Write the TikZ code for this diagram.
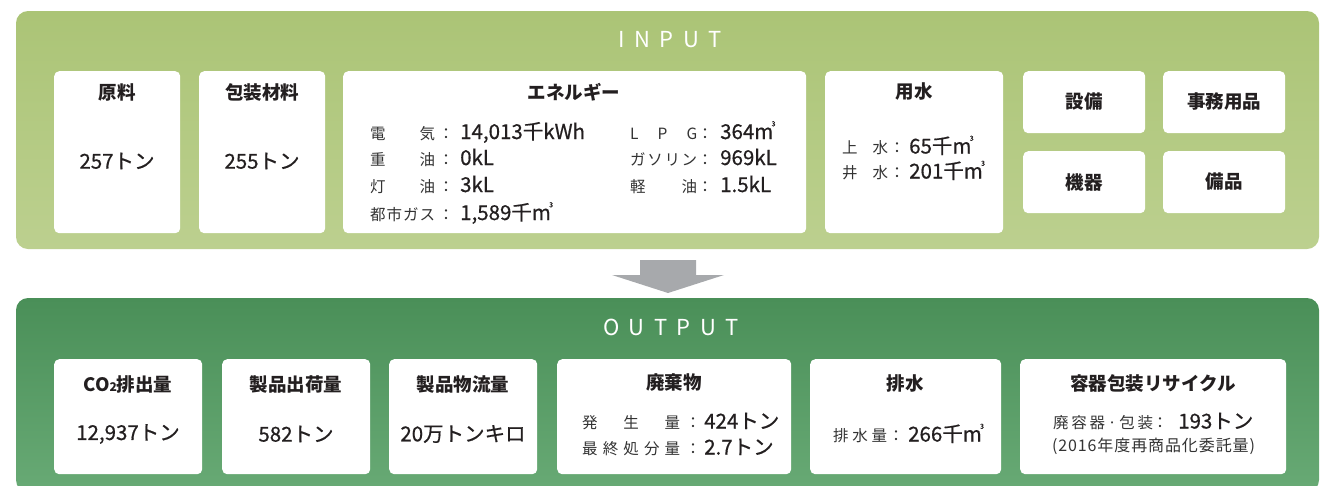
\documentclass[tikz,border=0pt]{standalone}
\usepackage{fontspec}
\setmainfont{Noto Sans CJK JP}
\newfontfamily\valfam[FakeBold=0.6]{Noto Sans CJK JP}
\definecolor{txt}{HTML}{231F20}
\definecolor{lbltxt}{HTML}{333333}
\definecolor{inTop}{HTML}{ABC476}
\definecolor{inMid}{HTML}{ADC578}
\definecolor{inBot}{HTML}{BCD08F}
\definecolor{outTop}{HTML}{4A8F58}
\definecolor{outMid}{HTML}{4F955D}
\definecolor{outBot}{HTML}{68AA75}
\definecolor{arrowgray}{HTML}{A7A9AC}
\newcommand\cubm{m\kern-0.08em\raisebox{0.62em}{\fontsize{7pt}{7pt}\selectfont 3}}
\newcommand\spread[2]{\makebox[#1][s]{#2}}
\tikzset{
  wbox/.style={fill=white, rounded corners=5pt, inner sep=0pt, anchor=north west, draw=none},
  ttl/.style={font=\fontsize{18.5pt}{18.5pt}\selectfont\bfseries, text=txt, inner sep=0pt},
  val/.style={font=\valfam\fontsize{20.5pt}{20.5pt}\selectfont, text=txt, inner sep=0pt},
  rowval/.style={val, anchor=base west},
  lbl/.style={font=\fontsize{15.5pt}{15.5pt}\selectfont, text=lbltxt, inner sep=0pt, anchor=base west},
  colon/.style={font=\fontsize{15.5pt}{15.5pt}\selectfont, text=lbltxt, inner sep=0pt, anchor=base},
  hdr/.style={font=\fontsize{22pt}{22pt}\selectfont, text=white, inner sep=0pt},
}
\begin{document}
\begin{tikzpicture}[x=1pt,y=-1pt]
\useasboundingbox (0,0) rectangle (1320,485);
\clip (0,0) rectangle (1320,485);
% panels
\shade[top color=inTop, middle color=inMid, bottom color=inBot, rounded corners=12pt] (16,11) rectangle (1319,249);
\shade[top color=outTop, middle color=outMid, bottom color=outBot, rounded corners=12pt] (16,298) rectangle (1319,492);
\node[hdr] (inhdr) at (670,40) {I\hspace{9.5pt}N\hspace{9.5pt}P\hspace{9.5pt}U\hspace{9.5pt}T};
\node[hdr] (outhdr) at (671,327) {O\hspace{9.5pt}U\hspace{9.5pt}T\hspace{9.5pt}P\hspace{9.5pt}U\hspace{9.5pt}T};
% arrow
\fill[arrowgray] (640,260) -- (696,260) -- (696,275) -- (724,275) -- (668,293) -- (612,275) -- (640,275) -- cycle;
% input boxes
\node[wbox, minimum width=126pt, minimum height=162pt] (raw) at (54,71) {};
\node[wbox, minimum width=126pt, minimum height=162pt] (pack) at (199,71) {};
\node[wbox, minimum width=463pt, minimum height=162pt] (energy) at (343,71) {};
\node[wbox, minimum width=178pt, minimum height=162pt] (water) at (825,71) {};
\node[wbox, minimum width=122pt, minimum height=62pt] (equip) at (1023,71) {};
\node[wbox, minimum width=122pt, minimum height=62pt] (office) at (1163,71) {};
\node[wbox, minimum width=122pt, minimum height=62pt] (machine) at (1023,151) {};
\node[wbox, minimum width=122pt, minimum height=62pt] (fixture) at (1163,151) {};
% input texts
\node[ttl] (rawT) at (117,92) {原料};
\node[val] (rawV) at (117,161) {257トン};
\node[ttl] (packT) at (262,92) {包装材料};
\node[val] (packV) at (262,161) {255トン};
\node[ttl] (energyT) at (574,92) {エネルギー};
\node[ttl] (waterT) at (914,92) {用水};
\node[ttl] (equipT) at (1084,102) {設備};
\node[ttl] (officeT) at (1224,102) {事務用品};
\node[ttl] (machineT) at (1084,182) {機器};
\node[ttl] (fixtureT) at (1224,182) {備品};
% energy rows
\node[lbl] (e1l) at (370,139) {\spread{65pt}{電\hfill 気}};
\node[colon] (e1c) at (446,139) {：};
\node[rowval] (e1v) at (460,139) {14,013千kWh};
\node[lbl] (e2l) at (370,165) {\spread{65pt}{重\hfill 油}};
\node[colon] (e2c) at (446,165) {：};
\node[rowval] (e2v) at (460,165) {0kL};
\node[lbl] (e3l) at (370,192) {\spread{65pt}{灯\hfill 油}};
\node[colon] (e3c) at (446,192) {：};
\node[rowval] (e3v) at (460,192) {3kL};
\node[lbl] (e4l) at (370,220) {\spread{65pt}{都\hfill 市\hfill ガ\hfill ス}};
\node[colon] (e4c) at (446,220) {：};
\node[rowval] (e4v) at (460,220) {1,589千\cubm};
\node[lbl] (e5l) at (630,139) {\spread{67pt}{L\hfill P\hfill G}};
\node[colon] (e5c) at (705,139) {：};
\node[rowval] (e5v) at (720,139) {364\cubm};
\node[lbl] (e6l) at (630,165) {\spread{67pt}{ガ\hfill ソ\hfill リ\hfill ン}};
\node[colon] (e6c) at (705,165) {：};
\node[rowval] (e6v) at (720,165) {969kL};
\node[lbl] (e7l) at (630,192) {\spread{67pt}{軽\hfill 油}};
\node[colon] (e7c) at (705,192) {：};
\node[rowval] (e7v) at (720,192) {1.5kL};
% water rows
\node[lbl] (w1l) at (842,153.5) {\spread{46pt}{上\hfill 水}};
\node[colon] (w1c) at (897,153.5) {：};
\node[rowval] (w1v) at (909,153.5) {65千\cubm};
\node[lbl] (w2l) at (842,178.5) {\spread{46pt}{井\hfill 水}};
\node[colon] (w2c) at (897,178.5) {：};
\node[rowval] (w2v) at (909,178.5) {201千\cubm};
% output boxes
\node[wbox, minimum width=148pt, minimum height=115pt] (co2) at (54,359) {};
\node[wbox, minimum width=148pt, minimum height=115pt] (ship) at (222,359) {};
\node[wbox, minimum width=148pt, minimum height=115pt] (logi) at (389,359) {};
\node[wbox, minimum width=234pt, minimum height=115pt] (waste) at (557,359) {};
\node[wbox, minimum width=191pt, minimum height=115pt] (drain) at (810,359) {};
\node[wbox, minimum width=266pt, minimum height=115pt] (recyc) at (1020,359) {};
% output texts
\node[ttl] (co2T) at (128,384) {CO{\fontsize{12pt}{12pt}\selectfont 2}排出量};
\node[val] (co2V) at (128,434) {12,937トン};
\node[ttl] (shipT) at (296,384) {製品出荷量};
\node[val] (shipV) at (296,434) {582トン};
\node[ttl] (logiT) at (463,384) {製品物流量};
\node[val] (logiV) at (463,434) {20万トンキロ};
\node[ttl] (wasteT) at (674,383) {廃棄物};
\node[lbl] (x1l) at (582,428.5) {\spread{98pt}{発\hfill 生\hfill 量}};
\node[colon] (x1c) at (693,428.5) {：};
\node[rowval] (x1v) at (704,428.5) {424トン};
\node[lbl] (x2l) at (582,454.5) {\spread{98pt}{最\hfill 終\hfill 処\hfill 分\hfill 量}};
\node[colon] (x2c) at (693,454.5) {：};
\node[rowval] (x2v) at (704,454.5) {2.7トン};
\node[ttl] (drainT) at (905,383) {排水};
\node[lbl] (d1l) at (833,441.5) {\spread{54pt}{排\hfill 水\hfill 量}};
\node[colon] (d1c) at (896,441.5) {：};
\node[rowval] (d1v) at (908,441.5) {266千\cubm};
\node[ttl] (recycT) at (1153,383) {容器包装リサイクル};
\node[lbl] (r1l) at (1053,428.5) {\spread{100pt}{廃\hfill 容\hfill 器\hfill ·\hfill 包\hfill 装}};
\node[colon] (r1c) at (1160,428.5) {：};
\node[rowval] (r1v) at (1178,428.5) {193トン};
\node[lbl, font=\fontsize{16pt}{16pt}\selectfont, anchor=center] (r2) at (1153.5,446) {\spread{203pt}{(\hfil 2\hfil 0\hfil 1\hfil 6\hfil 年\hfil 度\hfil 再\hfil 商\hfil 品\hfil 化\hfil 委\hfil 託\hfil 量\hfil )}};
\end{tikzpicture}
\end{document}
